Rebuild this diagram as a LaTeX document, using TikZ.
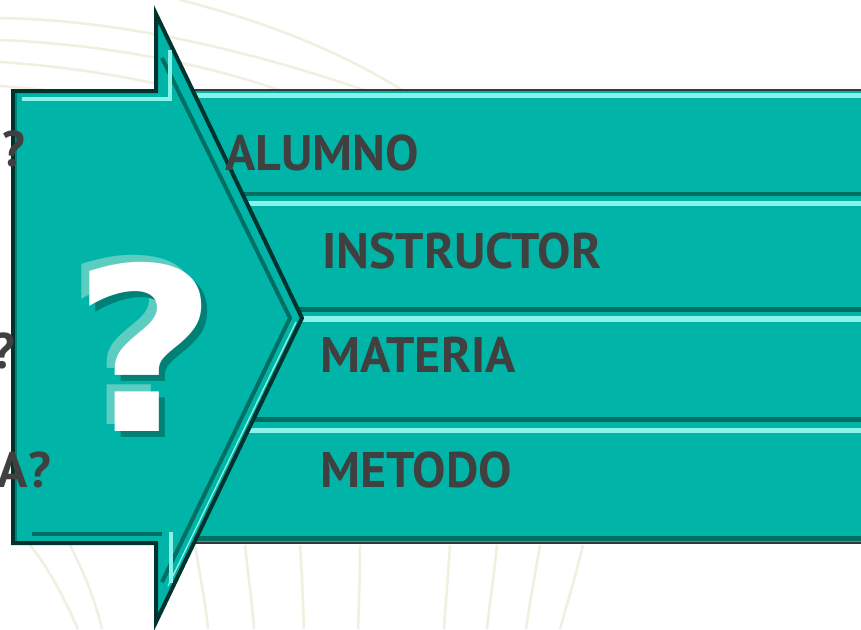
\documentclass[tikz,border=0pt]{standalone}
\usepackage{fontspec}
\setmainfont{PT Sans}
\newfontfamily\qfont{DejaVu Sans}
\definecolor{tealfill}{HTML}{00B5A8}
\definecolor{tealdark}{HTML}{006E63}
\definecolor{teallight}{HTML}{8AF2E8}
\definecolor{arrowline}{HTML}{00332E}
\definecolor{barline}{HTML}{2B3A3A}
\definecolor{txt}{HTML}{404040}
\definecolor{shlight}{HTML}{5CCDC0}
\definecolor{shdark}{HTML}{008076}
\definecolor{bgline}{HTML}{F0EFE0}
\tikzset{
  lbl/.style={inner sep=0pt, text=txt, font=\fontsize{50}{50}\selectfont\bfseries},
  bigq/.style={inner sep=0pt, anchor=base, font=\qfont\fontsize{228}{228}\selectfont\bfseries},
  bgarc/.style={draw=bgline, line width=2.5pt},
}
\begin{document}
\begin{tikzpicture}[x=1pt,y=-1pt]
\useasboundingbox (0,0) rectangle (861,629);
\clip (0,0) rectangle (861,629);
\fill[white] (0,0) rectangle (861,629);
% faint background curves
\draw[bgarc] (0,18) .. controls (120,20) and (260,50) .. (420,110);
\draw[bgarc] (0,40) .. controls (120,45) and (240,70) .. (330,110);
\draw[bgarc] (0,62) .. controls (90,68) and (180,85) .. (250,110);
\draw[bgarc] (0,86) .. controls (60,90) and (120,100) .. (160,110);
\draw[bgarc] (180,0) .. controls (260,20) and (340,50) .. (410,95);
\draw[bgarc] (30,545) .. controls (50,570) and (65,600) .. (78,629);
\draw[bgarc] (70,545) .. controls (85,575) and (95,600) .. (102,629);
\draw[bgarc] (195,545) .. controls (200,575) and (205,600) .. (208,629);
\draw[bgarc] (245,545) .. controls (248,575) and (252,600) .. (254,629);
\draw[bgarc] (300,545) .. controls (302,575) and (303,600) .. (304,629);
\draw[bgarc] (360,545) .. controls (360,575) and (359,600) .. (358,629);
\draw[bgarc] (450,545) .. controls (448,575) and (446,600) .. (444,629);
\draw[bgarc] (497,545) .. controls (494,575) and (490,600) .. (487,629);
\draw[bgarc] (540,545) .. controls (535,575) and (530,600) .. (526,629);
\draw[bgarc] (583,545) .. controls (576,575) and (568,600) .. (560,629);
% bars
\fill[tealfill] (190,90) rectangle (870,543);
\fill[teallight] (190,93) rectangle (870,98);
\fill[tealdark] (190,192) rectangle (870,196);
\fill[teallight] (190,201) rectangle (870,206);
\fill[tealdark] (190,307) rectangle (870,312);
\fill[teallight] (190,316) rectangle (870,322);
\fill[tealdark] (190,417) rectangle (870,422);
\fill[teallight] (190,428) rectangle (870,433);
\fill[tealdark] (190,536) rectangle (870,541);
\draw[barline, line width=2pt] (190,90) -- (870,90);
\draw[barline, line width=2pt] (190,543) -- (870,543);
% arrow
\path[fill=tealfill, draw=arrowline, line width=4pt, line join=miter]
  (13,91) -- (156,91) -- (156,14) -- (302,318) -- (156,622) -- (156,543) -- (13,543) -- cycle;
\draw[tealdark, line width=4pt] (162,58) -- (290,318) -- (162,582);
\draw[teallight, line width=1.3pt] (296,322) -- (168,586);
\draw[teallight, line width=4.5pt] (22,99) -- (170,99) -- (170,50);
\draw[tealdark, line width=4.5pt] (32,534) -- (162,534);
\draw[teallight, line width=4pt] (171,532) -- (171,583);
\draw[tealdark!70!tealfill, line width=2pt] (16,93) -- (16,541);
% big question mark
\node[bigq, text=shlight] (qlight) at (137,424) {\scalebox{1.1}[1]{?}};
\node[bigq, text=shdark] (qdark) at (151,437) {\scalebox{1.1}[1]{?}};
\node[bigq, text=white] (qwhite) at (145,431) {\scalebox{1.1}[1]{?}};
% labels
\node[lbl, anchor=base west] (alumno) at (225,170) {ALUMNO};
\node[lbl, anchor=base west] (instructor) at (322,268) {INSTRUCTOR};
\node[lbl, anchor=base west] (materia) at (320,372) {MATERIA};
\node[lbl, anchor=base west] (metodo) at (320,487) {METODO};
\node[lbl, anchor=base east] (q1) at (25,166) {E?};
\node[lbl, anchor=base east] (q2) at (15,368) {?};
\node[lbl, anchor=base east] (q3) at (51,487) {A?};
\end{tikzpicture}
\end{document}
